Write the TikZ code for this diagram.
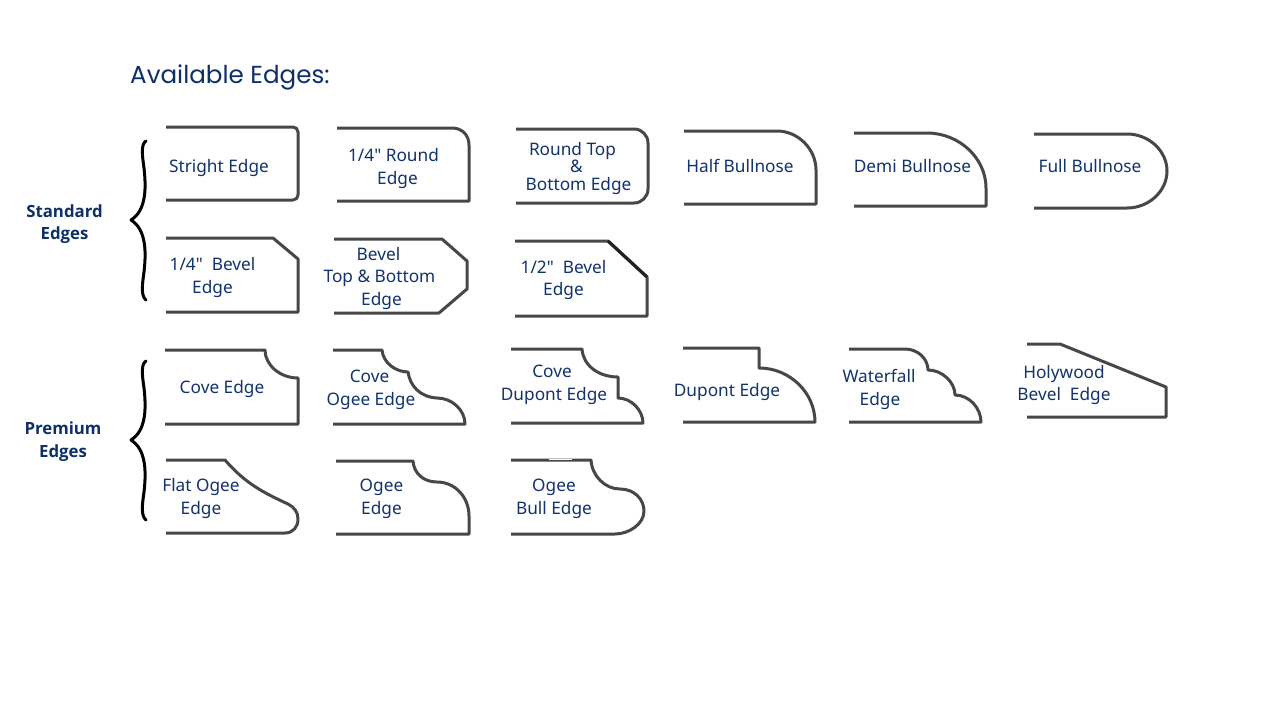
\documentclass[tikz,border=0pt]{standalone}
\usepackage{fontspec}
\setmainfont{Noto Sans}
\newfontfamily\titlefont{Poppins}
\newfontfamily\labelfont{Noto Sans}
\newfontfamily\groupfont{Open Sans}
\usetikzlibrary{positioning}
\definecolor{navytext}{HTML}{12336B}
\definecolor{titletext}{HTML}{0E3068}
\definecolor{edgeline}{HTML}{474747}
\definecolor{darkbevel}{HTML}{222222}
\newcommand{\nudge}[1]{\kern#1pt}
\begin{document}
\begin{tikzpicture}[
                x=1pt, y=-1pt,
                profile/.style={draw=edgeline, line width=3pt, line join=round},
                curly/.style={draw=black, line width=3pt, line cap=round, line join=round},
                edgename/.style={text=navytext, align=center, inner sep=0pt, font={\fontsize{17.25}{22.7}\selectfont\labelfont}},
                groupname/.style={text=titletext, align=center, inner sep=0pt, font={\fontsize{16.8}{22.5}\selectfont\groupfont\bfseries}}
            ]
                \useasboundingbox (0,0) rectangle (1280,720);
                \fill[white] (0,0) rectangle (1280,720);

                % Title
                \node[text=titletext, inner sep=0pt, anchor=base west, font={\fontsize{24.6}{28}\selectfont\titlefont}] (title) at (130,83) {Available Edges:};

                % Group names
                \node[groupname] (standard) at (64.5,224) {Standard\\Edges};
                \node[groupname] (premium) at (63,441.5) {Premium\\Edges};

                % Braces
                \foreach \tipy in {220,440} {
                    \draw[curly] (146,\tipy-79) .. controls (141,\tipy-76) and (142,\tipy-66) .. (144,\tipy-52)
                        .. controls (146,\tipy-34) and (147,\tipy-10) .. (131,\tipy)
                        .. controls (147,\tipy+10) and (146,\tipy+34) .. (144,\tipy+52)
                        .. controls (142,\tipy+66) and (141,\tipy+76) .. (146,\tipy+80);
                }

                % Standard edges, first row
                \draw[profile, rounded corners=5pt] (166,127) -- (298,127) -- (298,200) -- (166,200);
                \node[edgename] (stright) at (219,168) {Stright Edge};

                \draw[profile] (337,128) -- (452,128) .. controls +(10,0) and +(0,-10) .. (469,145) -- (469,201) -- (337,201);
                \node[edgename] (round) at (397.5,168.5) {1/4" Round\nudge{8}\\Edge};

                \draw[profile, rounded corners=14pt] (516,129) -- (648,129) -- (648,203) -- (516,203);
                \node[edgename, font={\fontsize{17.25}{17.5}\selectfont\labelfont}] (roundtb) at (576.5,168.5) {Round Top\nudge{8}\\\&\\\nudge{4}Bottom Edge};

                \draw[profile] (684,131) -- (777,131) .. controls +(21,0) and +(0,-21) .. (816,170) -- (816,204) -- (684,204);
                \node[edgename] (half) at (740,166) {Half Bullnose};

                \draw[profile] (854,133) -- (927,133) .. controls +(32,0) and +(0,-30) .. (986,188) -- (986,206) -- (854,206);
                \node[edgename] (demi) at (912.5,166) {Demi Bullnose};

                \draw[profile] (1034,134) -- (1127,134) .. controls +(22,0) and +(0,-20) .. (1167,171) .. controls +(0,20) and +(22,0) .. (1127,208) -- (1034,208);
                \node[edgename] (full) at (1090,166) {Full Bullnose};

                % Standard edges, second row
                \draw[profile] (166,238) -- (273,238) -- (298,259) -- (298,312) -- (166,312);
                \node[edgename] (bevelq) at (212.5,277.5) {1/4"\ \ Bevel\\Edge};

                \draw[profile] (334,239) -- (442,239) -- (467,261) -- (467,289) -- (439,313) -- (334,313);
                \node[edgename] (beveltb) at (379.5,278.5) {Bevel\nudge{2}\\Top \& Bottom\\\nudge{4}Edge};

                \draw[profile] (515,241) -- (608,241) -- (647,277) -- (647,316) -- (515,316);
                \draw[darkbevel, line width=3.1pt] (608,241) -- (647,277);
                \node[edgename] (bevelh) at (563.5,280) {1/2"\ \ Bevel\\Edge};

                % Premium edges, first row
                \draw[profile] (165,350) -- (265,350) .. controls +(0,15) and +(-18,0) .. (298,378) -- (298,424) -- (165,424);
                \node[edgename] (cove) at (222,389) {Cove Edge};

                \draw[profile] (333,350) -- (382,350) .. controls +(1,13) and +(-12,0) .. (408,372) .. controls (410,386) and (420,397) .. (437,398) .. controls +(15,0) and +(0,-14) .. (465,424) -- (333,424);
                \node[edgename] (coveogee) at (371,389.5) {Cove\nudge{3}\\Ogee Edge};

                \draw[profile] (511,349) -- (582,349) .. controls +(1,16) and +(-20,0) .. (618,377) -- (618,398) .. controls +(13,0) and +(0,-13) .. (643,423) -- (511,423);
                \node[edgename] (covedupont) at (554,385) {Cove\nudge{4}\\Dupont Edge};

                \draw[profile] (683,348) -- (759,348) -- (759,368) .. controls +(31,0) and +(0,-29) .. (815,422) -- (683,422);
                \node[edgename] (dupont) at (727,392) {Dupont Edge};

                \draw[profile] (849,349) -- (905,349) .. controls +(13,0) and +(0,-11) .. (928,370) .. controls +(14,0) and +(0,-13) .. (955,395) .. controls +(14,0) and +(0,-14) .. (981,422) -- (849,422);
                \node[edgename] (waterfall) at (880,389.5) {Waterfall\nudge{2}\\Edge};

                \draw[profile] (1027,344) -- (1060,344) -- (1166,387) -- (1166,417) -- (1027,417);
                \node[edgename] (holywood) at (1064,385) {Holywood\\Bevel\ \ Edge};

                % Premium edges, second row
                \draw[profile] (166,533) -- (285,533) .. controls (293,533) and (298,527) .. (298,519) .. controls (298,512) and (294,507) .. (288,504) .. controls (262,492) and (245,483) .. (225,460) -- (166,460);
                \node[edgename] (flatogee) at (201,498.5) {Flat Ogee\\Edge};

                \draw[profile] (336,461) -- (413,461) .. controls +(1,13) and +(-13,0) .. (437,482) .. controls +(18,0) and +(0,-19) .. (469,516) -- (469,534) -- (336,534);
                \node[edgename] (ogee) at (381.5,498.5) {Ogee\\Edge};

                \draw[profile] (511,460) -- (591,460) .. controls +(1,16) and +(-15,0) .. (620,489) .. controls +(14,0) and +(0,-12) .. (644,511) .. controls +(0,13) and +(14,0) .. (615,534) -- (511,534);
                \draw[white, line width=1.2pt] (549,459.5) -- (572,459.5);
                \node[edgename] (ogeebull) at (554,498.5) {Ogee\\Bull Edge};
            \end{tikzpicture}
\end{document}
